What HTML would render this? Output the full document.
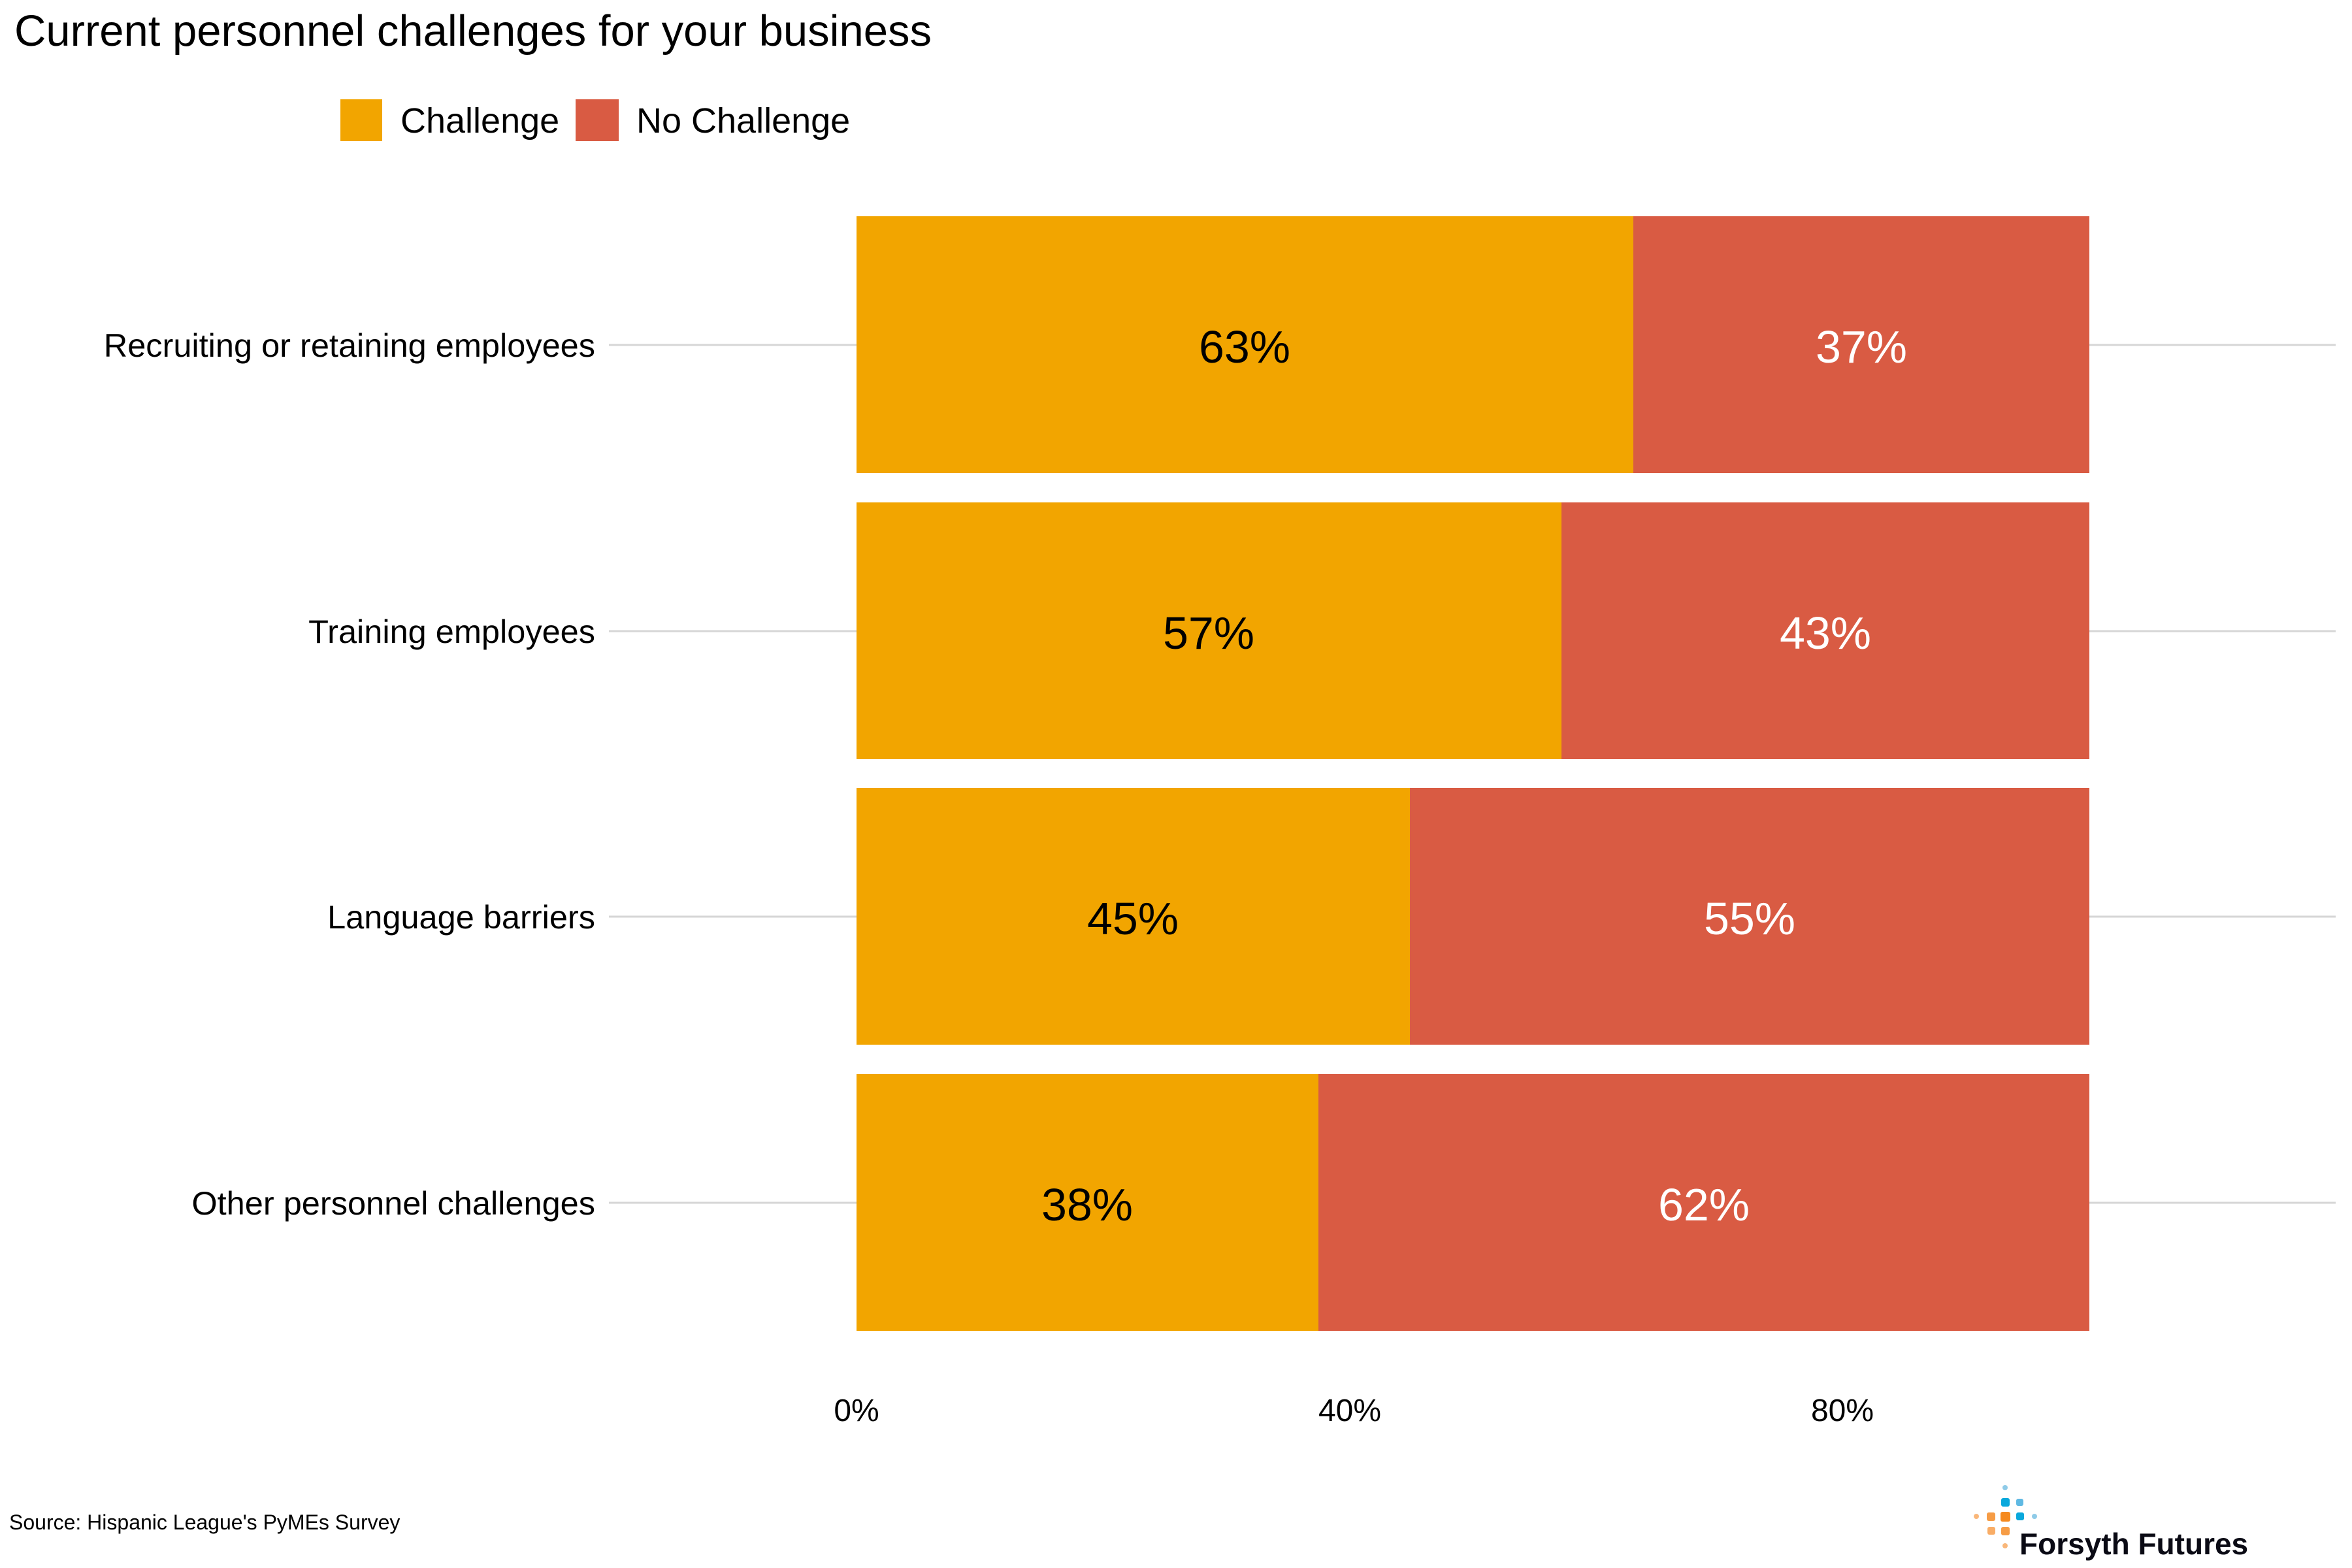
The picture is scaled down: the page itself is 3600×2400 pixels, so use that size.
<!DOCTYPE html>
<html><head><meta charset="utf-8"><style>html,body{margin:0;padding:0;background:#fff}svg{display:block}</style></head>
<body>
<svg width="3600" height="2400" viewBox="0 0 3600 2400" xmlns="http://www.w3.org/2000/svg" font-family="Liberation Sans, Arial, sans-serif">
<rect width="3600" height="2400" fill="#fff"/>
<text x="22" y="70" font-size="67" fill="#000">Current personnel challenges for your business</text>
<rect x="521" y="152" width="64" height="64" fill="#F2A500"/>
<text x="613" y="203" font-size="54" fill="#000">Challenge</text>
<rect x="881" y="152" width="66" height="64" fill="#D95B43"/>
<text x="974" y="203" font-size="54" fill="#000">No Challenge</text>
<g stroke="#d6d6d6" stroke-width="3">
<line x1="932" y1="528" x2="3575" y2="528"/>
<line x1="932" y1="966" x2="3575" y2="966"/>
<line x1="932" y1="1403" x2="3575" y2="1403"/>
<line x1="932" y1="1841" x2="3575" y2="1841"/>
</g>
<g font-size="50.5" fill="#000" text-anchor="end">
<text x="911" y="546">Recruiting or retaining employees</text>
<text x="911" y="984">Training employees</text>
<text x="911" y="1421">Language barriers</text>
<text x="911" y="1859">Other personnel challenges</text>
</g>
<rect x="1311" y="331" width="1189" height="393" fill="#F2A500"/>
<rect x="2500" y="331" width="698" height="393" fill="#D95B43"/>
<rect x="1311" y="769" width="1079" height="393" fill="#F2A500"/>
<rect x="2390" y="769" width="808" height="393" fill="#D95B43"/>
<rect x="1311" y="1206" width="847" height="393" fill="#F2A500"/>
<rect x="2158" y="1206" width="1040" height="393" fill="#D95B43"/>
<rect x="1311" y="1644" width="707" height="393" fill="#F2A500"/>
<rect x="2018" y="1644" width="1180" height="393" fill="#D95B43"/>
<g font-size="70" text-anchor="middle">
<text x="1905" y="555" fill="#000">63%</text>
<text x="2849" y="555" fill="#fff">37%</text>
<text x="1850" y="993" fill="#000">57%</text>
<text x="2794" y="993" fill="#fff">43%</text>
<text x="1734" y="1430" fill="#000">45%</text>
<text x="2678" y="1430" fill="#fff">55%</text>
<text x="1664" y="1868" fill="#000">38%</text>
<text x="2608" y="1868" fill="#fff">62%</text>
</g>
<g font-size="48" fill="#000" text-anchor="middle">
<text x="1311" y="2175">0%</text>
<text x="2066" y="2175">40%</text>
<text x="2820" y="2175">80%</text>
</g>
<text x="14" y="2341" font-size="32" fill="#000">Source: Hispanic League's PyMEs Survey</text>
<g>
<circle cx="3069" cy="2277" r="4" fill="#8FCBE8"/>
<rect x="3063" y="2293" width="13" height="13" rx="3" fill="#0AA8DC"/>
<rect x="3086" y="2294" width="11" height="11" rx="3" fill="#5FB9E3"/>
<circle cx="3025" cy="2321" r="4" fill="#F9B77A"/>
<rect x="3041" y="2315" width="13" height="13" rx="3" fill="#F69C45"/>
<rect x="3062" y="2314" width="15" height="15" rx="3" fill="#F58A1F"/>
<rect x="3086" y="2315" width="12" height="12" rx="3" fill="#0AA8DC"/>
<circle cx="3114" cy="2321" r="4" fill="#8FCBE8"/>
<rect x="3042" y="2337" width="12" height="12" rx="3" fill="#F9AD66"/>
<rect x="3063" y="2337" width="13" height="13" rx="3" fill="#F69C45"/>
<circle cx="3069" cy="2366" r="4" fill="#F9B77A"/>
</g>
<text x="3091" y="2379" font-size="46" font-weight="bold" fill="#0a0a14">Forsyth Futures</text>
</svg>
</body></html>
